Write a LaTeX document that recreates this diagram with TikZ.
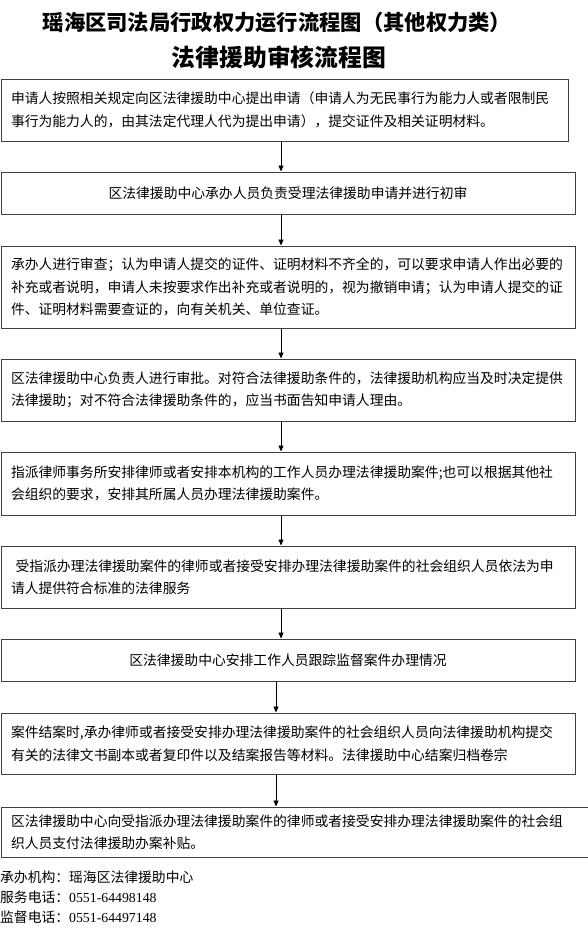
\documentclass[tikz,border=0pt]{standalone}
\usepackage{fontspec}
\setmainfont{Liberation Serif}
\newfontfamily\cjk{Noto Sans CJK SC}
\usetikzlibrary{arrows.meta}
\begin{document}
\begin{tikzpicture}[x=1pt,y=-1pt,
  box/.style={draw=black!75, line width=1pt, rectangle, inner xsep=10pt, inner ysep=0pt,
    font=\cjk\fontsize{13.8}{22.5}\selectfont, align=left},
  arr/.style={draw=black, line width=0.9pt, -{Triangle[length=6pt,width=5pt]}},
  ttl/.style={font=\cjk\bfseries\fontsize{21.3}{24}\selectfont, inner sep=0pt},
  foot/.style={font=\cjk\fontsize{13.8}{16}\selectfont, inner sep=0pt, anchor=west}
]
\useasboundingbox (0,0) rectangle (588,930);
\fill[white] (0,0) rectangle (588,930);

\node[ttl] (t1) at (277,22) {瑶海区司法局行政权力运行流程图（其他权力类）};
\node[ttl, font=\cjk\bfseries\fontsize{23.8}{26}\selectfont] (t2) at (279,57) {法律援助审核流程图};

\node[box, text width=547pt, minimum height=62pt] (b1) at (284.5,110)
  {申请人按照相关规定向区法律援助中心提出申请（申请人为无民事行为能力人或者限制民\\事行为能力人的，由其法定代理人代为提出申请），提交证件及相关证明材料。};
\node[box, align=center, text width=554pt, minimum height=42pt] (b2) at (288,193)
  {区法律援助中心承办人员负责受理法律援助申请并进行初审};
\node[box, text width=554pt, minimum height=82pt] (b3) at (288,287)
  {承办人进行审查；认为申请人提交的证件、证明材料不齐全的，可以要求申请人作出必要的\\补充或者说明，申请人未按要求作出补充或者说明的，视为撤销申请；认为申请人提交的证\\件、证明材料需要查证的，向有关机关、单位查证。};
\node[box, text width=554pt, minimum height=62pt] (b4) at (288,390)
  {区法律援助中心负责人进行审批。对符合法律援助条件的，法律援助机构应当及时决定提供\\法律援助；对不符合法律援助条件的，应当书面告知申请人理由。};
\node[box, text width=554pt, minimum height=63pt] (b5) at (288,483.5)
  {指派律师事务所安排律师或者安排本机构的工作人员办理法律援助案件;也可以根据其他社\\会组织的要求，安排其所属人员办理法律援助案件。};
\node[box, text width=554pt, minimum height=62pt] (b6) at (288,577)
  {\ 受指派办理法律援助案件的律师或者接受安排办理法律援助案件的社会组织人员依法为申\\请人提供符合标准的法律服务};
\node[box, align=center, text width=554pt, minimum height=42pt] (b7) at (288,660)
  {区法律援助中心安排工作人员跟踪监督案件办理情况};
\node[box, text width=554pt, minimum height=61pt] (b8) at (288,743.5)
  {案件结案时,承办律师或者接受安排办理法律援助案件的社会组织人员向法律援助机构提交\\有关的法律文书副本或者复印件以及结案报告等材料。法律援助中心结案归档卷宗};
\node[box, text width=579pt, minimum height=50pt] (b9) at (300.5,832)
  {区法律援助中心向受指派办理法律援助案件的律师或者接受安排办理法律援助案件的社会组\\织人员支付法律援助办案补贴。};

\coordinate (xa) at (281,0);
\coordinate (xb) at (276,0);
\draw[arr] (b1.south -| xa) -- (b2.north -| xa);
\draw[arr] (b2.south -| xa) -- (b3.north -| xa);
\draw[arr] (b3.south -| xa) -- (b4.north -| xa);
\draw[arr] (b4.south -| xa) -- (b5.north -| xa);
\draw[arr] (b5.south -| xa) -- (b6.north -| xa);
\draw[arr] (b6.south -| xa) -- (b7.north -| xa);
\draw[arr] (b7.south -| xb) -- (b8.north -| xb);
\draw[arr] (b8.south -| xb) -- (b9.north -| xb);

\node[foot] (f1) at (0,877) {承办机构：瑶海区法律援助中心};
\node[foot] (f2) at (0,897) {服务电话：{\rmfamily 0551-64498148}};
\node[foot] (f3) at (0,917) {监督电话：{\rmfamily 0551-64497148}};
\end{tikzpicture}
\end{document}
